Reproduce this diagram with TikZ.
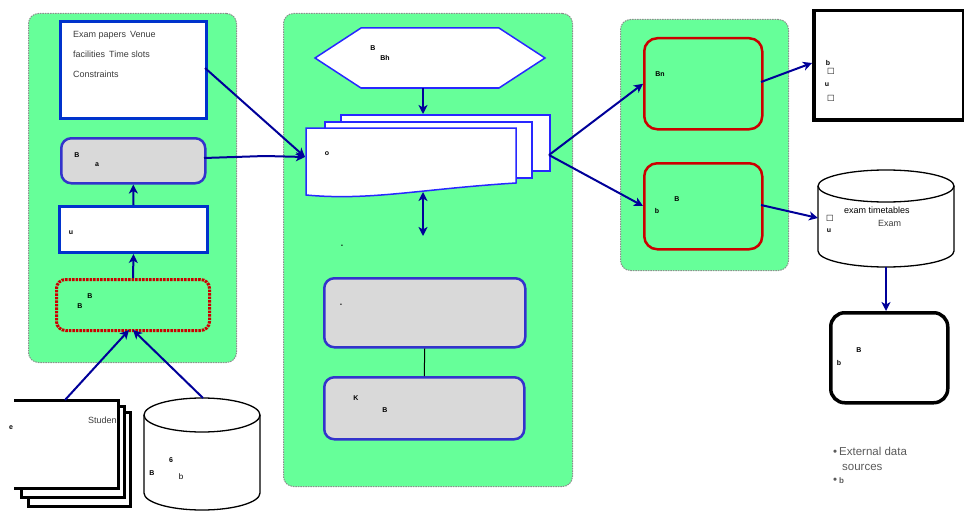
\documentclass[tikz,border=0pt]{standalone}
\usepackage{fontspec}
\setmainfont{Liberation Sans}
\newfontfamily\dejavu{DejaVu Sans}
\usetikzlibrary{arrows.meta,calc}
\definecolor{pgreen}{RGB}{102,255,153}
\definecolor{pgray}{RGB}{140,140,140}
\definecolor{bblue}{RGB}{0,51,204}
\definecolor{gblue}{RGB}{51,51,204}
\definecolor{lblue}{RGB}{40,40,255}
\definecolor{ablue}{RGB}{0,0,153}
\definecolor{rred}{RGB}{204,0,0}
\definecolor{lgray}{RGB}{217,217,217}
\definecolor{tgray}{RGB}{60,60,60}
\definecolor{bgray}{RGB}{90,90,90}
\tikzset{
  panel/.style={fill=pgreen, draw=pgray, line width=1pt, dash pattern=on 1.5pt off 1pt, rounded corners=10pt, anchor=north west, inner sep=0pt},
  bluebox/.style={fill=white, draw=bblue, line width=3pt, anchor=north west, inner sep=0pt},
  graybox/.style={fill=lgray, draw=gblue, line width=2.5pt, rounded corners=10pt, anchor=north west, inner sep=0pt},
  redbox/.style={fill=pgreen, draw=rred, line width=2.5pt, rounded corners=13pt, anchor=north west, inner sep=0pt},
  dotbox/.style={fill=pgreen, draw=rred, line width=3pt, dash pattern=on 2.5pt off 1pt, rounded corners=9pt, anchor=north west, inner sep=0pt},
  docbox/.style={fill=white, draw=lblue, line width=1.5pt, anchor=north west, inner sep=0pt},
  blackbox/.style={fill=white, draw=black, line width=3.5pt, anchor=north west, inner sep=0pt},
  ghost/.style={draw=none, anchor=north west, inner sep=0pt},
  conn/.style={draw=ablue, line width=2pt, -{Stealth[length=9pt,width=9pt,inset=2.5pt]}},
  lbl/.style={font=\fontsize{9}{11}\selectfont, text=tgray, anchor=west, inner sep=0pt},
  gl/.style={font=\fontsize{7}{8}\selectfont\bfseries, anchor=center, inner sep=0pt},
  blt/.style={font=\fontsize{11.5}{13}\selectfont, text=bgray, anchor=west, inner sep=0pt},
  docline/.style={draw=black, line width=3pt},
  cyl/.style={draw=black, line width=1.3pt, fill=white}
}
\begin{document}
\begin{tikzpicture}[x=1pt,y=-1pt]
\useasboundingbox (0,0) rectangle (964,511);
% panels
\node[panel, minimum width=208pt, minimum height=349pt] (pl) at (28,13) {};
\node[panel, minimum width=289pt, minimum height=473pt] (pm) at (283,13) {};
\node[panel, minimum width=168pt, minimum height=251pt] (pr) at (620,19) {};
% left panel boxes
\node[bluebox, minimum width=146pt, minimum height=97pt] (b1) at (59,20) {};
\node[lbl] (t1) at (73,35) {Exam papers\, Venue};
\node[lbl] (t2) at (73,54) {facilities\, Time slots};
\node[lbl] (t3) at (73,74) {Constraints};
\node[graybox, minimum width=144pt, minimum height=45pt] (b2) at (60,137) {};
\node[gl] (g1) at (77,155) {B};
\node[gl] (g2) at (97,165) {a};
\node[bluebox, minimum width=148pt, minimum height=46pt] (b3) at (58,205) {};
\node[gl] (g3) at (71,233) {u};
\node[dotbox, minimum width=153pt, minimum height=51pt] (b4) at (55,278) {};
\node[gl] (g4) at (90,296) {B};
\node[gl] (g5) at (80,306) {B};
% left documents
\node[ghost, minimum width=104pt, minimum height=88pt] (docs) at (14,400) {};
\draw[docline] (28,497) -- (28,506) -- (130,506) -- (130,412) -- (124,412);
\draw[docline] (21,488) -- (21,497) -- (124,497) -- (124,406) -- (118,406);
\draw[docline] (14,400) -- (118,400) -- (118,488) -- (14,488);
\node[lbl] (t4) at (88,420) {Studen};
\node[gl] (g6) at (11,428) {e};
% left cylinder
\node[ghost, minimum width=116pt, minimum height=112pt] (db1) at (144,398) {};
\draw[cyl] (144,415) -- (144,493) .. controls (144,502.4) and (170,510) .. (202,510) .. controls (234,510) and (260,502.4) .. (260,493) -- (260,415);
\draw[cyl] (202,415) ellipse [x radius=58pt, y radius=17pt];
\node[gl] (g7) at (171,460) {6};
\node[gl] (g8) at (152,473) {B};
\node[gl, font=\fontsize{8}{9}\selectfont] (g9) at (181,477) {b};
% middle panel
\node[ghost, minimum width=230pt, minimum height=60pt] (hex) at (315,28) {};
\draw[draw=lblue, line width=1.5pt, fill=white] (315,58) -- (361,28) -- (499,28) -- (545,58) -- (499,88) -- (361,88) -- cycle;
\node[gl] (g10) at (373,48) {B};
\node[gl] (g11) at (385,58) {Bh};
\node[docbox, minimum width=209pt, minimum height=56pt] (dback) at (340,114) {};
\node[docbox, minimum width=207pt, minimum height=56pt] (dmid) at (324,121) {};
\node[ghost, minimum width=210pt, minimum height=67pt] (dfront) at (306,128) {};
\draw[draw=lblue, line width=1.5pt, fill=white] (306,128) -- (516,128) -- (516,183) .. controls (420,189) and (370,201) .. (306,195) -- cycle;
\node[gl] (g12) at (327,154) {o};
\node[gl] (g13) at (342,246) {-};
\node[graybox, minimum width=201pt, minimum height=69pt] (g1b) at (323,277) {};
\node[gl] (g14) at (341,305) {-};
\node[graybox, minimum width=200pt, minimum height=62pt] (g2b) at (323,376) {};
\node[gl] (g15) at (356,398) {K};
\node[gl] (g16) at (385,410) {B};
% right panel
\node[redbox, minimum width=118pt, minimum height=91pt] (r1) at (643,37) {};
\node[gl] (g17) at (660,74) {Bn};
\node[redbox, minimum width=118pt, minimum height=86pt] (r2) at (643,162) {};
\node[gl] (g18) at (677,199) {B};
\node[gl] (g19) at (657,211) {b};
% outputs
\node[blackbox, minimum width=150pt, minimum height=109pt] (out1) at (812,9) {};
\node[gl] (g20) at (828,63) {b};
\node[gl, font=\dejavu\fontsize{8}{9}\selectfont] (g21) at (831,71) {□};
\node[gl] (g22) at (827,85) {u};
\node[gl, font=\dejavu\fontsize{8}{9}\selectfont] (g23) at (831,98) {□};
% right cylinder
\node[ghost, minimum width=136pt, minimum height=97pt] (db2) at (818,170) {};
\draw[cyl] (818,186) -- (818,251) .. controls (818,259.8) and (848.5,267) .. (886,267) .. controls (923.5,267) and (954,259.8) .. (954,251) -- (954,186);
\draw[cyl] (886,186) ellipse [x radius=68pt, y radius=16pt];
\node[lbl, text=black] (t5) at (844,210) {exam timetables};
\node[lbl] (t6) at (878,223) {Exam};
\node[gl, font=\dejavu\fontsize{8}{9}\selectfont] (g24) at (830,218) {□};
\node[gl] (g25) at (829,231) {u};
\node[blackbox, rounded corners=14pt, minimum width=117pt, minimum height=90pt] (out2) at (829,311) {};
\node[gl] (g26) at (859,350) {B};
\node[gl] (g27) at (839,363) {b};
% legend
\node[blt] (t7) at (833,451) {\textbullet\kern2pt External data};
\node[blt] (t8) at (842,467) {sources};
\node[blt] (t9) at (833,481) {\textbullet\kern2pt\textbf{\fontsize{8}{9}\selectfont b}};
% connector end points
\coordinate (docsout) at (65,400);
\coordinate (db1out) at (203,398);
\coordinate (b4inl) at (129,330);
\coordinate (b4inr) at (133,330);
\coordinate (b1out) at (205,68);
\coordinate (b2out) at (204,158);
\coordinate (bend) at (265,156);
\coordinate (dfin) at (305,157);
\coordinate (hexout) at (423,88);
\coordinate (dbackin) at (423,114);
\coordinate (dfout) at (423,192);
\coordinate (dn) at (423,236);
\coordinate (dbackout) at (549,155);
\coordinate (r2in) at (643,206);
\coordinate (r1out) at (761,82);
\coordinate (out1in) at (812,63);
\coordinate (r2out) at (761,205);
\coordinate (db2in) at (818,218);
\coordinate (db2out) at (886,267);
\coordinate (out2in) at (886,311);
% connectors
\draw[conn] (b4.north) -- (b3.south);
\draw[conn] (b3.north) -- (b2.south);
\draw[conn] (docsout) -- (b4inl);
\draw[conn] (db1out) -- (b4inr);
\draw[conn] (b2out) -- (bend) -- (dfin);
\draw[conn] (b1out) -- (dfin);
\draw[conn] (hexout) -- (dbackin);
\draw[conn, {Stealth[length=9pt,width=9pt,inset=2.5pt]}-{Stealth[length=9pt,width=9pt,inset=2.5pt]}] (dfout) -- (dn);
\draw[black, line width=1pt] (g1b.south) -- (g2b.north);
\draw[conn] (dbackout) -- (r1.west);
\draw[conn] (dbackout) -- (r2in);
\draw[conn] (r1out) -- (out1in);
\draw[conn] (r2out) -- (db2in);
\draw[conn] (db2out) -- (out2in);
\end{tikzpicture}
\end{document}
